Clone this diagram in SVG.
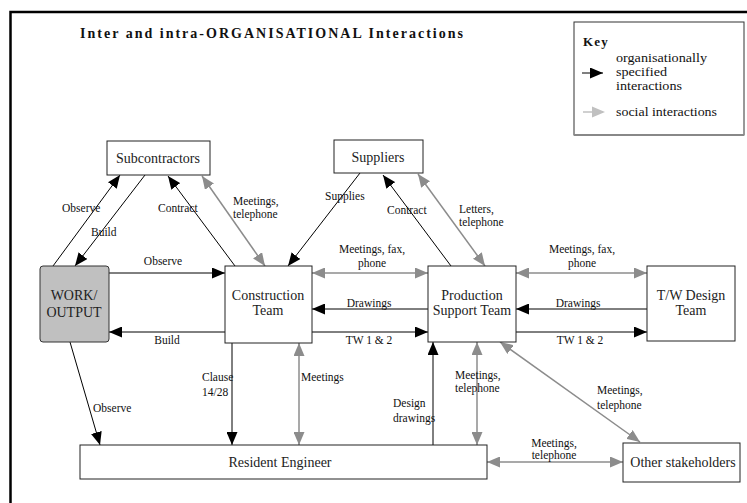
<svg xmlns="http://www.w3.org/2000/svg" width="747" height="503" viewBox="0 0 747 503" font-family="'Liberation Serif', 'DejaVu Serif', serif">
<style>
.node{fill:#fff;stroke:#222;stroke-width:1}
.nt{font-family:'Liberation Serif','DejaVu Serif',serif;font-size:14px;fill:#222;text-anchor:middle}
.lb{font-family:'Liberation Serif','DejaVu Serif',serif;font-size:11.5px;fill:#111}
.lbm{font-family:'Liberation Serif','DejaVu Serif',serif;font-size:11.5px;fill:#111;text-anchor:middle}
.kt{font-family:'Liberation Serif','DejaVu Serif',serif;font-size:13px;fill:#111}
.org{stroke:#000;stroke-width:1;fill:none;marker-end:url(#arrB)}
.soc{stroke:#8c8c8c;stroke-width:1.5;fill:none;marker-start:url(#arrG);marker-end:url(#arrG)}
</style>
<defs>
<marker id="arrB" markerUnits="userSpaceOnUse" markerWidth="13" markerHeight="11" refX="13" refY="5.5" orient="auto-start-reverse"><path d="M0,0 L13,5.5 L0,11 z" fill="#000"/></marker>
<marker id="arrG" markerUnits="userSpaceOnUse" markerWidth="13" markerHeight="11" refX="13" refY="5.5" orient="auto-start-reverse"><path d="M0,0 L13,5.5 L0,11 z" fill="#8c8c8c"/></marker>
</defs>
<rect x="0" y="0" width="747" height="503" fill="#fff"/>
<rect x="10.5" y="12" width="760" height="520" fill="none" stroke="#000" stroke-width="2.5"/>
<text x="80" y="38" textLength="383" lengthAdjust="spacing" font-family="Liberation Serif, serif" font-size="14" font-weight="bold" fill="#111">Inter and intra-ORGANISATIONAL Interactions</text>

<g id="key">
<rect x="574" y="22" width="170" height="113" fill="#fff" stroke="#333" stroke-width="1"/>
<line x1="574" y1="135" x2="744" y2="135" stroke="#888" stroke-width="2"/>
<text x="583" y="46" font-family="Liberation Serif, serif" font-size="13" font-weight="bold" fill="#111" letter-spacing="1.2">Key</text>
<line x1="582" y1="73" x2="603" y2="73" stroke="#000" stroke-width="1" marker-end="url(#arrB)"/>
<line x1="583" y1="112" x2="603" y2="112" stroke="#c0c0c0" stroke-width="1.5"/>
<path d="M592,106.5 L605,112 L592,117.5 z" fill="#c0c0c0"/>
<text class="kt" x="616" y="62" textLength="91" lengthAdjust="spacingAndGlyphs">organisationally</text>
<text class="kt" x="616" y="76" textLength="51" lengthAdjust="spacingAndGlyphs">specified</text>
<text class="kt" x="616" y="90" textLength="66" lengthAdjust="spacingAndGlyphs">interactions</text>
<text class="kt" x="616" y="116" textLength="101" lengthAdjust="spacingAndGlyphs">social interactions</text>
</g>

<g id="connectors">
<path class="org" d="M53,266 L120,175"/>
<path class="org" d="M145,175 L75,266"/>
<path class="org" d="M235,266 L168,176"/>
<path class="soc" d="M202,176 L265,266"/>
<path class="org" d="M360,173 L288,266"/>
<path class="org" d="M451,266 L383,175"/>
<path class="soc" d="M418,174 L485,266"/>
<path class="org" d="M109,273 L225,273"/>
<path class="org" d="M225,332 L109,332"/>
<path class="soc" d="M312,273 L428,273"/>
<path class="org" d="M428,309 L312,309"/>
<path class="org" d="M312,332 L428,332"/>
<path class="soc" d="M516,273 L647,273"/>
<path class="org" d="M647,309 L516,309"/>
<path class="org" d="M516,332 L647,332"/>
<path class="org" d="M70,342 L100,445"/>
<path class="org" d="M232,343 L232,445"/>
<path class="soc" d="M299,343 L299,445"/>
<path class="org" d="M433,445 L433,342"/>
<path class="soc" d="M477,342 L477,445"/>
<path class="soc" d="M500,342 L640,442"/>
<path class="soc" d="M487,462 L623,462"/>

<text class="lb" x="62" y="212">Observe</text>
<text class="lb" x="91" y="236">Build</text>
<text class="lb" x="158" y="212">Contract</text>
<text class="lb" x="233" y="205">Meetings,</text>
<text class="lb" x="233" y="218">telephone</text>
<text class="lb" x="325" y="200">Supplies</text>
<text class="lb" x="387" y="214">Contract</text>
<text class="lb" x="459" y="213">Letters,</text>
<text class="lb" x="459" y="226">telephone</text>
<text class="lbm" x="163" y="265">Observe</text>
<text class="lbm" x="372" y="253">Meetings, fax,</text>
<text class="lbm" x="372" y="267">phone</text>
<text class="lbm" x="582" y="253">Meetings, fax,</text>
<text class="lbm" x="582" y="267">phone</text>
<text class="lbm" x="369" y="307">Drawings</text>
<text class="lbm" x="578" y="307">Drawings</text>
<text class="lbm" x="167" y="344">Build</text>
<text class="lbm" x="369" y="344">TW 1 &amp; 2</text>
<text class="lbm" x="580" y="344">TW 1 &amp; 2</text>
<text class="lb" x="93" y="412">Observe</text>
<text class="lb" x="202" y="381">Clause</text>
<text class="lb" x="202" y="396">14/28</text>
<text class="lb" x="301" y="381">Meetings</text>
<text class="lb" x="393" y="407">Design</text>
<text class="lb" x="393" y="422">drawings</text>
<text class="lb" x="455" y="379">Meetings,</text>
<text class="lb" x="455" y="392">telephone</text>
<text class="lb" x="597" y="394">Meetings,</text>
<text class="lb" x="597" y="409">telephone</text>
<text class="lbm" x="554" y="447">Meetings,</text>
<text class="lbm" x="554" y="459">telephone</text>
</g>

<g id="subcontractors"><rect class="node" x="107" y="141" width="103" height="34"/><text class="nt" x="158" y="163">Subcontractors</text></g>
<g id="suppliers"><rect class="node" x="334" y="140" width="89" height="33"/><text class="nt" x="378" y="162">Suppliers</text></g>
<g id="work-output"><rect x="40" y="266" width="69" height="76" rx="3" fill="#c0c0c0" stroke="#333" stroke-width="1"/><text class="nt" x="74" y="300" font-size="12.5">WORK/</text><text class="nt" x="74" y="317" font-size="12.5">OUTPUT</text></g>
<g id="construction-team"><rect class="node" x="225" y="266" width="87" height="77"/><text class="nt" x="268" y="300">Construction</text><text class="nt" x="268" y="315">Team</text></g>
<g id="production-support-team"><rect class="node" x="428" y="266" width="88" height="76"/><text class="nt" x="472" y="300">Production</text><text class="nt" x="472" y="315">Support Team</text></g>
<g id="tw-design-team"><rect class="node" x="647" y="266" width="88" height="75"/><text class="nt" x="691" y="300">T/W Design</text><text class="nt" x="691" y="315">Team</text></g>
<g id="resident-engineer"><rect class="node" x="80" y="445" width="407" height="34"/><text class="nt" x="280" y="467">Resident Engineer</text></g>
<g id="other-stakeholders"><rect class="node" x="623" y="443" width="117" height="39"/><text class="nt" x="683" y="467">Other stakeholders</text></g>
</svg>
